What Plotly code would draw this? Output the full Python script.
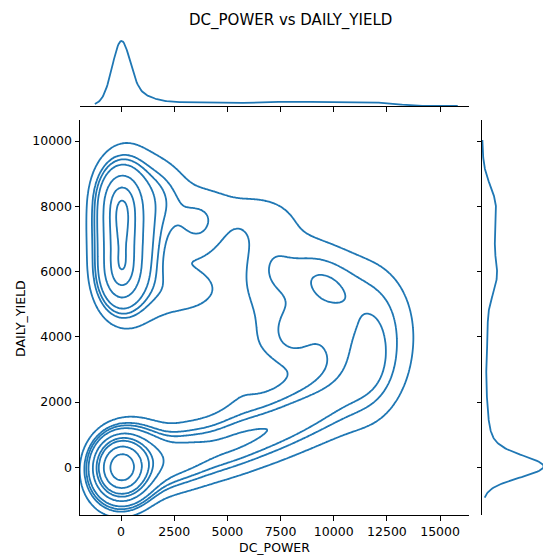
import numpy as np
import plotly.graph_objects as go

# ---------------- data ----------------
# Gaussian clusters summarising the DC_POWER / DAILY_YIELD sample
# night (0,0) | night evening | early/late low power | morning band | middle | afternoon band
comp_x   = [0,    200,  0,    0,    0,    300,  900,  1000, 2500, 5000, 7500, 10000, 12000, 7900, 7000, 8600, 11000, 5500, 1800, 3600, 3000, 7000, 9300, 12200, 10000, 5000]
comp_y   = [0,    0,    6000, 7200, 8200, 7300, 150,  6800, 250,  700,  1300, 2000,  3000,  4050, 6200, 4700, 3800,  3000, 8400, 7400, 5400, 7700, 6100, 5000,  5400,  8000]
comp_sx  = [0,    600,  0,    0,    0,    700,  500,  700,  1000, 1200, 1300, 1300,  800,   350,  500,  1600, 1300,  500,  700,  600,  1100, 1300, 1300, 800,   1200,  1500]
comp_sy  = [0,    450,  450,  400,  400,  1300, 250,  1200, 350,  450,  550,  650,   1000,  250,  700,  1200, 800,   800,  500,  450,  300,  350,  450,  800,   500,   350]
comp_rho = [0,    0.3,  0,    0,    0,    0,    0.5,  0,    0.6,  0.7,  0.7,  0.6,   0.3,   0,    0,    -0.2, 0,     0,    0,    0,    0.2,  -0.3, -0.4, -0.3,  -0.3,  -0.3]
comp_w   = [0.22, 0.07, 0.065, 0.045, 0.055, 0.05, 0.03, 0.03, 0.035, 0.03, 0.03, 0.025, 0.02, 0.005, 0.008, 0.036, 0.022, 0.006, 0.012, 0.012, 0.010, 0.006, 0.012, 0.012, 0.012, 0.006]

BW2_X, BW2_Y = 600, 450      # 2-D kernel bandwidth
BW1_X, BW1_Y = 410, 310      # 1-D (marginal) kernel bandwidth
DATA_X = [0, 14600]
DATA_Y = [0, 9100]
CUT = 3
ISO_LEVELS = list(np.linspace(0.05, 1, 10)[:-1])

x_ticks = [0, 2500, 5000, 7500, 10000, 12500, 15000]
y_ticks = [0, 2000, 4000, 6000, 8000, 10000]
X_RANGE = [-1930, 16360]
Y_RANGE = [-1462, 10644]

TITLE = "DC_POWER vs DAILY_YIELD"
XLABEL = "DC_POWER"
YLABEL = "DAILY_YIELD"
COLOR = "#1f77b4"

# ---------------- density ----------------
cx = np.array(comp_x, float); cy = np.array(comp_y, float)
sx = np.array(comp_sx, float); sy = np.array(comp_sy, float)
rho = np.array(comp_rho, float); w = np.array(comp_w, float)
w = w / w.sum()

gx = np.linspace(-3500, 18000, 330)
gy = np.linspace(-2800, 12000, 300)
GX, GY = np.meshgrid(gx, gy)
Z = np.zeros_like(GX)
for i in range(len(cx)):
    vxx = sx[i] ** 2 + BW2_X ** 2
    vyy = sy[i] ** 2 + BW2_Y ** 2
    vxy = rho[i] * sx[i] * sy[i]
    det = vxx * vyy - vxy ** 2
    dx = GX - cx[i]; dy = GY - cy[i]
    q = (vyy * dx * dx - 2 * vxy * dx * dy + vxx * dy * dy) / det
    Z += w[i] * np.exp(-0.5 * q) / (2 * np.pi * np.sqrt(det))

vals = Z.ravel()
order = np.argsort(vals)
cum = np.cumsum(vals[order]) / vals.sum()
P = np.empty_like(vals)
P[order] = cum
P = P.reshape(Z.shape)

def marg(t, centers, spreads, bw):
    out = np.zeros_like(t)
    for c, s, ww in zip(centers, spreads, w):
        sd = np.sqrt(s ** 2 + bw ** 2)
        out += ww * np.exp(-0.5 * ((t - c) / sd) ** 2) / (np.sqrt(2 * np.pi) * sd)
    return out

mx = np.linspace(DATA_X[0] - CUT * BW1_X, DATA_X[1] + CUT * BW1_X, 400)
my = np.linspace(DATA_Y[0] - CUT * BW1_Y, DATA_Y[1] + CUT * BW1_Y, 400)
dmx = marg(mx, cx, sx, BW1_X)
dmy = marg(my, cy, sy, BW1_Y)

# ---------------- layout geometry ----------------
W, H = 543, 558
def px(x): return x / W
def py(y): return 1 - y / H

main_x = [px(80), px(469)]
main_y = [py(515), py(120)]
top_y = [py(106), py(27)]
right_x = [px(482), 1.0]

fig = go.Figure()
step = ISO_LEVELS[1] - ISO_LEVELS[0]
fig.add_trace(go.Contour(
    x=gx, y=gy, z=P,
    contours=dict(start=ISO_LEVELS[0], end=ISO_LEVELS[-1] + 1e-6, size=step, coloring="lines"),
    line=dict(width=1.8, smoothing=1),
    colorscale=[[0, COLOR], [1, COLOR]], showscale=False, hoverinfo="skip",
    xaxis="x", yaxis="y"))
fig.add_trace(go.Scatter(x=mx, y=dmx, mode="lines", line=dict(color=COLOR, width=1.8),
                         hoverinfo="skip", xaxis="x2", yaxis="y2"))
fig.add_trace(go.Scatter(x=dmy, y=my, mode="lines", line=dict(color=COLOR, width=1.8),
                         hoverinfo="skip", xaxis="x3", yaxis="y3"))

font = dict(family="DejaVu Sans", size=12.5, color="black")
tick_common = dict(ticks="outside", ticklen=4.5, tickwidth=1, tickcolor="black",
                   showline=True, linecolor="black", linewidth=1, showgrid=False,
                   zeroline=False, tickfont=font)

top_peak = dmx.max()
right_peak = dmy.max()
fig.update_layout(
    width=W, height=H, margin=dict(l=0, r=0, t=0, b=0),
    paper_bgcolor="white", plot_bgcolor="white", showlegend=False,
    font=font,
    xaxis=dict(domain=main_x, range=X_RANGE, tickvals=x_ticks,
               ticktext=[str(v) for v in x_ticks], anchor="y", **tick_common),
    yaxis=dict(domain=main_y, range=Y_RANGE, tickvals=y_ticks,
               ticktext=[str(v) for v in y_ticks], anchor="x", **tick_common),
    xaxis2=dict(domain=main_x, range=X_RANGE, tickvals=x_ticks, showticklabels=False,
                anchor="y2", **{k: v for k, v in tick_common.items() if k != "tickfont"}),
    yaxis2=dict(domain=top_y, range=[0, top_peak * 79 / 65], visible=False, anchor="x2"),
    xaxis3=dict(domain=right_x, range=[0, right_peak * 0.99], visible=False, anchor="y3"),
    yaxis3=dict(domain=main_y, range=Y_RANGE, tickvals=y_ticks, showticklabels=False,
                anchor="x3", **{k: v for k, v in tick_common.items() if k != "tickfont"}),
    annotations=[
        dict(text=TITLE, x=px(290), y=py(20), xref="paper", yref="paper", showarrow=False,
             font=dict(family="DejaVu Sans", size=15, color="black"), xanchor="center", yanchor="middle"),
        dict(text=XLABEL, x=px(274.5), y=py(547), xref="paper", yref="paper", showarrow=False,
             font=font, xanchor="center", yanchor="middle"),
        dict(text=YLABEL, x=px(20), y=py(319), xref="paper", yref="paper", showarrow=False,
             font=font, textangle=-90, xanchor="center", yanchor="middle"),
    ],
)
fig.write_html("out.html")
